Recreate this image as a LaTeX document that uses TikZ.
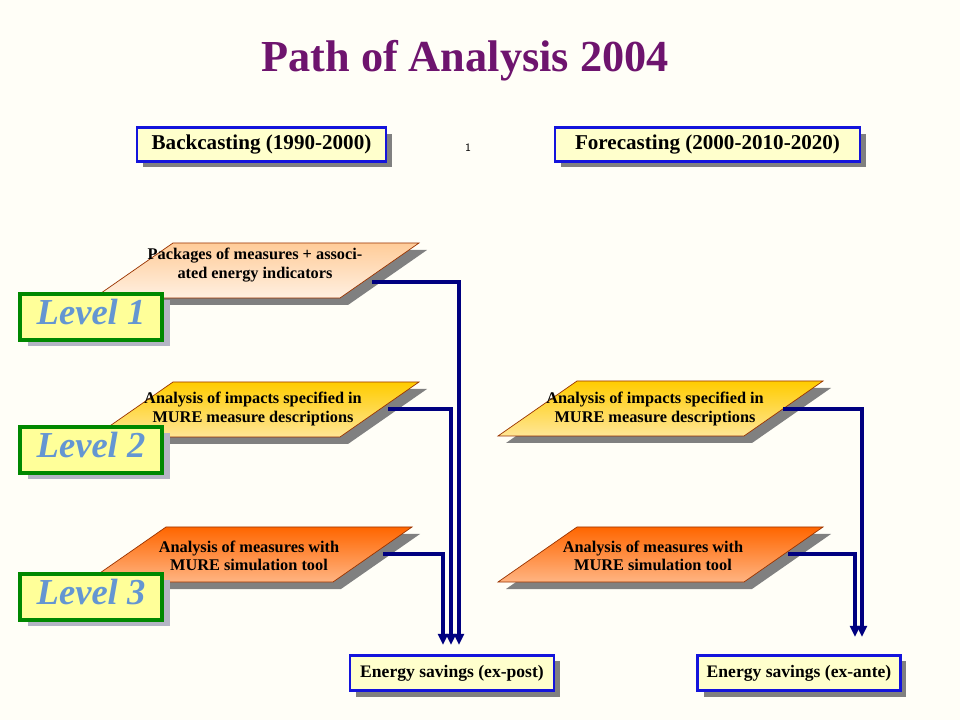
\documentclass[tikz,border=0pt]{standalone}
\usepackage{fontspec}
\setmainfont{Liberation Serif}
\usepackage{xcolor}
\usepackage{tikz}
\usetikzlibrary{
	positioning,    % posizionamento relativo
	arrows.meta,    % punte di freccia
	calc,           % coordinate calcolate
	shadows         % ombre dei riquadri
}

\definecolor{sfondo}{RGB}{255,254,247}
\definecolor{viola}{RGB}{110,20,110}
\definecolor{blubordo}{RGB}{20,20,220}
\definecolor{gialloch}{RGB}{255,255,204}
\definecolor{grigioombra}{RGB}{128,128,128}
\definecolor{verdebordo}{RGB}{0,136,0}
\definecolor{giallolv}{RGB}{255,255,153}
\definecolor{blulv}{RGB}{100,150,210}
\definecolor{ombralv}{RGB}{180,180,196}
\definecolor{bordopar}{RGB}{153,51,0}
\definecolor{lineablu}{RGB}{0,0,128}
\definecolor{pescaA}{RGB}{255,204,153}
\definecolor{pescaB}{RGB}{255,240,225}
\definecolor{oroA}{RGB}{255,204,0}
\definecolor{oroB}{RGB}{255,230,150}
\definecolor{aranA}{RGB}{255,102,0}
\definecolor{aranB}{RGB}{255,180,130}

% parallelogramma con ombra: x, y (angolo in alto a sinistra), larghezza, colore alto, colore basso
\newcommand{\slantbox}[5]{%
	\fill[grigioombra] (#1+8,#2+7) -- ++(#3,0) -- ++(-79,55) -- ++(-#3,0) -- cycle;
	\shade[top color=#4, bottom color=#5, draw=bordopar, line width=0.5pt]
	(#1,#2) -- ++(#3,0) -- ++(-79,55) -- ++(-#3,0) -- cycle;
}

\begin{document}
\begin{tikzpicture}[
	x=0.025cm, y=-0.025cm,
	>={Triangle[length=8pt,width=7pt]},
	titolo/.style={font=\fontsize{31.5}{36}\selectfont\bfseries, text=viola},
	periodo/.style={draw=blubordo, line width=2pt, fill=gialloch,
		font=\fontsize{15}{18}\selectfont\bfseries, minimum height=24pt, inner sep=0pt,
		drop shadow={shadow xshift=4.3pt, shadow yshift=-4.3pt, fill=grigioombra, opacity=1}},
	risparmio/.style={periodo, font=\fontsize{12.5}{15}\selectfont\bfseries, minimum height=25pt},
	livello/.style={draw=verdebordo, line width=2.8pt, fill=giallolv, text=blulv,
		font=\fontsize{26}{30}\selectfont\bfseries\itshape, text depth=8pt,
		minimum width=100.7pt, minimum height=32.6pt, inner sep=0pt,
		drop shadow={shadow xshift=5.7pt, shadow yshift=-4.3pt, fill=ombralv, opacity=1}},
	testo/.style={align=center, font=\fontsize{11.6}{13}\selectfont\bfseries, inner sep=0pt},
	flusso/.style={->, draw=lineablu, line width=2.6pt}
	]
	
	% --- Sfondo ---
	\fill[sfondo] (0,0) rectangle (960,720);
	\useasboundingbox (0,0) rectangle (960,720);
	
	% --- Titolo ---
	\node[titolo] (titolo) at (465,61) {Path of Analysis 2004};
	
	% --- Periodi ---
	\node[periodo, minimum width=177pt] (back) at (261.5,144.5) {Backcasting (1990-2000)};
	\node[periodo, minimum width=217pt] (fore) at (707.5,144.5) {Forecasting (2000-2010-2020)};
	\node[font=\sffamily\fontsize{8}{9}\selectfont] (pagina) at (468,148) {1};
	
	% --- Parallelogrammi (backcasting) ---
	\slantbox{173}{243}{246}{pescaA}{pescaB}
	\slantbox{173}{382}{246}{oroA}{oroB}
	\slantbox{166}{527}{246}{aranA}{aranB}
	
	% --- Parallelogrammi (forecasting) ---
	\slantbox{577}{381}{246}{oroA}{oroB}
	\slantbox{577}{527}{246}{aranA}{aranB}
	
	% --- Testi ---
	\node[testo] (pacchetti) at (255,265) {Packages of measures + associ-\\ated energy indicators};
	\node[testo] (impattiB) at (253,409) {Analysis of impacts specified in\\MURE measure descriptions};
	\node[testo] (simulB) at (249,556) {Analysis of measures with\\MURE simulation tool};
	\node[testo] (impattiF) at (655,409) {Analysis of impacts specified in\\MURE measure descriptions};
	\node[testo] (simulF) at (653,556) {Analysis of measures with\\MURE simulation tool};
	
	% --- Livelli ---
	\node[livello] (liv1) at (91,317) {Level 1};
	\node[livello] (liv2) at (91,450) {Level 2};
	\node[livello] (liv3) at (91,597) {Level 3};
	
	% --- Risparmi ---
	\node[risparmio, minimum width=145pt] (expost) at (452,673) {Energy savings (ex-post)};
	\node[risparmio, minimum width=144pt] (exante) at (799,673) {Energy savings (ex-ante)};
	
	% --- Frecce ---
	\coordinate (pacchetti-out) at (372,282);
	\coordinate (impattiB-out) at (388,409);
	\coordinate (simulB-out) at (383,554);
	\coordinate (impattiF-out) at (783,409);
	\coordinate (simulF-out) at (788,554);
	
	\draw[flusso] (pacchetti-out) -| ($(expost.north)+(7,-9)$);
	\draw[flusso] (impattiB-out) -| ($(expost.north)+(-1,-9)$);
	\draw[flusso] (simulB-out) -| ($(expost.north)+(-9,-9)$);
	\draw[flusso] (impattiF-out) -| ($(exante.north)+(63,-17)$);
	\draw[flusso] (simulF-out) -| ($(exante.north)+(56,-17)$);
\end{tikzpicture}
\end{document}
